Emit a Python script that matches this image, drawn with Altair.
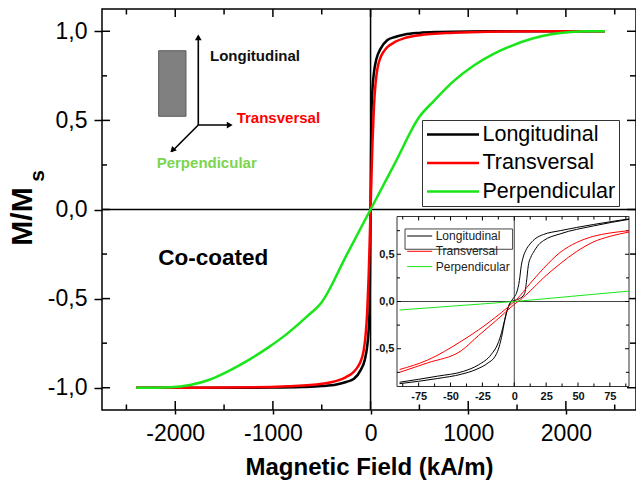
import altair as alt
import pandas as pd

FONT = "Liberation Sans"

# ---------------- data ----------------
series_names = ["Longitudinal", "Transversal", "Perpendicular"]
series_colors = ["#000000", "#ff0000", "#19e619"]

# main loops (kA/m, M/Ms)
long_H = [-2400, -1500, -1000, -700, -500, -350, -250, -170, -100, -60, -35, -20, -10, -5, 0,
          5, 10, 20, 35, 60, 100, 170, 250, 350, 500, 700, 1000, 1500, 2400]
long_M = [-1.0, -1.0, -0.999, -0.996, -0.991, -0.982, -0.968, -0.95, -0.90, -0.845, -0.77, -0.68, -0.55, -0.3, 0.0,
          0.3, 0.55, 0.68, 0.77, 0.845, 0.90, 0.95, 0.968, 0.982, 0.991, 0.996, 0.999, 1.0, 1.0]

trans_H = [-2400, -1800, -1200, -850, -500, -340, -250, -180, -140, -100, -70, -50, -35, -20, -10, 0,
           10, 20, 35, 50, 70, 100, 140, 180, 250, 340, 500, 850, 1200, 1800, 2400]
trans_M = [-1.0, -1.0, -0.998, -0.992, -0.978, -0.96, -0.94, -0.915, -0.89, -0.85, -0.79, -0.70, -0.58, -0.38, -0.2, 0.0,
           0.2, 0.38, 0.58, 0.70, 0.79, 0.85, 0.89, 0.915, 0.94, 0.96, 0.978, 0.992, 0.998, 1.0, 1.0]

perp_H = [-2400, -2200, -2050, -1850, -1650, -1450, -1250, -1050, -850, -650, -500, -250, 0,
          250, 500, 650, 850, 1050, 1250, 1450, 1650, 1850, 2050, 2200, 2400]
perp_M = [-1.0, -1.0, -0.998, -0.985, -0.955, -0.905, -0.845, -0.775, -0.695, -0.60, -0.52, -0.26, 0.0,
          0.26, 0.52, 0.61, 0.72, 0.805, 0.87, 0.92, 0.958, 0.983, 0.996, 1.0, 1.0]

# inset loops (low field), two branches each
in_long_ul_H = [-90, -60, -40, -28, -18, -13, -10, -8, -6, -3.5, -1, 2, 4, 5.5, 7, 9, 12.4, 17, 23, 36, 62, 90]
in_long_ul_M = [-0.855, -0.79, -0.74, -0.67, -0.56, -0.45, -0.33, -0.22, -0.11, -0.02, 0.03, 0.1, 0.22, 0.38,
                0.47, 0.54, 0.61, 0.67, 0.71, 0.75, 0.815, 0.875]
in_long_lr_H = [-90, -60, -41.5, -30, -20.5, -15, -12.6, -10, -7.3, -5, -2, 4, 8, 9.5, 11, 13, 15, 19, 23, 36, 62, 90]
in_long_lr_M = [-0.87, -0.815, -0.77, -0.72, -0.65, -0.58, -0.51, -0.38, -0.19, -0.07, 0.0, 0.03, 0.08, 0.2,
                0.38, 0.47, 0.52, 0.6, 0.645, 0.716, 0.80, 0.87]

in_trans_ul_H = [-90, -68, -41.5, -28, -15, -5, 0, 2, 12.4, 22.9, 36, 49, 62, 75, 90]
in_trans_ul_M = [-0.72, -0.62, -0.42, -0.30, -0.17, -0.06, 0.0, 0.025, 0.19, 0.35, 0.52, 0.625, 0.69, 0.725, 0.75]
in_trans_lr_H = [-90, -68, -41.5, -28, -15, -5, 0, 5, 12.4, 22.9, 36, 49, 62, 75, 90]
in_trans_lr_M = [-0.75, -0.65, -0.52, -0.36, -0.21, -0.09, -0.03, 0.02, 0.11, 0.25, 0.40, 0.53, 0.63, 0.69, 0.735]

in_perp_H = [-90, -45, 0, 45, 90]
in_perp_M = [-0.09, -0.045, 0.0, 0.055, 0.11]

# axis ticks
x_major = [-2000, -1000, 0, 1000, 2000]
x_minor = [-2500, -1500, -500, 500, 1500, 2500]
y_major = [-1.0, -0.5, 0.0, 0.5, 1.0]
y_minor = [-0.75, -0.25, 0.25, 0.75]
in_x_major = [-75, -50, -25, 0, 25, 50, 75]
in_x_minor = [-87.5, -62.5, -37.5, -12.5, 12.5, 37.5, 62.5, 87.5]
in_y_major = [-0.5, 0.0, 0.5]
in_y_minor = [-0.75, -0.25, 0.25, 0.75]

# ---------------- layout ----------------
W, HGT = 534, 401
X_DOM = [-2750, 2718]
Y_DOM = [-1.125, 1.125]
IN_X_DOM = [-92, 90]
IN_Y_DOM = [-0.9, 0.9]
IN_X_RANGE = [295, 527]
IN_Y_RANGE = [377.5, 207.5]

xs = alt.Scale(domain=X_DOM, range=[0, W], nice=False, zero=False)
ys = alt.Scale(domain=Y_DOM, range=[HGT, 0], nice=False, zero=False)
ixs = alt.Scale(domain=IN_X_DOM, range=IN_X_RANGE, nice=False, zero=False)
iys = alt.Scale(domain=IN_Y_DOM, range=IN_Y_RANGE, nice=False, zero=False)

LBL_X = "replace(format(datum.value, 'd'), '\u2212', '-')"
LBL_Y = "replace(replace(format(datum.value, '.1f'), '.', ','), '\u2212', '-')"


def frame(name, branch, hs, ms):
    return pd.DataFrame({"H": hs, "M": ms, "series": name, "branch": branch})


main_df = pd.concat([
    frame("Longitudinal", "a", long_H, long_M),
    frame("Transversal", "a", trans_H, trans_M),
    frame("Perpendicular", "a", perp_H, perp_M),
])
inset_df = pd.concat([
    frame("Longitudinal", "ul", in_long_ul_H, in_long_ul_M),
    frame("Longitudinal", "lr", in_long_lr_H, in_long_lr_M),
    frame("Transversal", "ul", in_trans_ul_H, in_trans_ul_M),
    frame("Transversal", "lr", in_trans_lr_H, in_trans_lr_M),
    frame("Perpendicular", "a", in_perp_H, in_perp_M),
])

# ---------------- main plot ----------------
main_lines = alt.Chart(main_df).mark_line(strokeWidth=2.5, interpolate="monotone").encode(
    x=alt.X("H:Q", scale=xs, axis=alt.Axis(
        orient="bottom", values=x_major, labelExpr=LBL_X, labelFont=FONT, labelFontSize=23,
        labelColor="black", tickSize=4, tickWidth=1.5, tickColor="black", labelPadding=8,
        domain=False, grid=False, title="Magnetic Field (kA/m)", titleFont=FONT,
        titleFontSize=24, titleFontWeight="bold", titleColor="black", titleY=64,
        titleBaseline="alphabetic")),
    y=alt.Y("M:Q", scale=ys, axis=alt.Axis(
        orient="left", values=y_major, labelExpr=LBL_Y, labelFont=FONT, labelFontSize=23,
        labelColor="black", tickSize=8, tickWidth=1.5, tickColor="black", labelPadding=7,
        domain=False, grid=False, title="M/M", titleFont=FONT, titleFontSize=30,
        titleFontWeight="bold", titleColor="black", titleAngle=270, titleX=-80, titleY=207,
        titleAlign="center", titleBaseline="middle")),
    color=alt.Color("series:N", scale=alt.Scale(domain=series_names, range=series_colors),
                    legend=alt.Legend(title=None, orient="none", legendX=320, legendY=111,
                                      symbolType="stroke", symbolSize=2704, symbolStrokeWidth=2.5,
                                      clipHeight=22, labelFontSize=21.5, labelFont=FONT,
                                      labelColor="black", rowPadding=6.5, padding=3.5,
                                      labelOffset=2, strokeColor="#333333", fillColor="white")),
)

zero_x = alt.Chart(pd.DataFrame({"v": [0]})).mark_rule(color="black", strokeWidth=1.5).encode(
    x=alt.X("v:Q", scale=xs, axis=None))
zero_y = alt.Chart(pd.DataFrame({"v": [0]})).mark_rule(color="black", strokeWidth=1.5).encode(
    y=alt.Y("v:Q", scale=ys, axis=None))


def xticks(vals, y0, y1, scale, width=1.5):
    return alt.Chart(pd.DataFrame({"v": vals})).mark_rule(color="black", strokeWidth=width).encode(
        x=alt.X("v:Q", scale=scale, axis=None), y=alt.value(y0), y2=alt.value(y1))


def yticks(vals, x0, x1, scale, width=1.5):
    return alt.Chart(pd.DataFrame({"v": vals})).mark_rule(color="black", strokeWidth=width).encode(
        y=alt.Y("v:Q", scale=scale, axis=None), x=alt.value(x0), x2=alt.value(x1))


main_ticks = [
    xticks(x_major, HGT, HGT - 9, xs), xticks(x_minor, HGT, HGT - 5.5, xs),
    xticks(x_major, 0, 8, xs), xticks(x_minor, 0, 5.5, xs),
    yticks(y_major, 0, 8, ys), yticks(y_minor, 0, 5, ys),
    yticks(y_major, W, W - 9, ys), yticks(y_minor, W, W - 6, ys),
]

# schematic (field directions) in data units
rect_df = pd.DataFrame({"h1": [-2170], "h2": [-1890], "m1": [0.523], "m2": [0.891]})
schem_rect = alt.Chart(rect_df).mark_rect(fill="#808080", stroke="#5a5a5a", strokeWidth=1).encode(
    x=alt.X("h1:Q", scale=xs, axis=None), x2="h2:Q",
    y=alt.Y("m1:Q", scale=ys, axis=None), y2="m2:Q")

arrow_df = pd.DataFrame({"h0": [-1764, -1764, -1764], "m0": [0.474, 0.474, 0.474],
                         "h1": [-1764, -1429, -2037], "m1": [0.974, 0.474, 0.324]})
arrows = alt.Chart(arrow_df).mark_rule(color="black", strokeWidth=1.6).encode(
    x=alt.X("h0:Q", scale=xs, axis=None), y=alt.Y("m0:Q", scale=ys, axis=None),
    x2="h1:Q", y2="m1:Q")
head_df = pd.DataFrame({"h": [-1764, -1452, -2022], "m": [0.96, 0.474, 0.336], "a": [0, 90, 225]})
heads = alt.Chart(head_df).mark_point(shape="triangle", filled=True, size=45, color="black",
                                      opacity=1).encode(
    x=alt.X("h:Q", scale=xs, axis=None), y=alt.Y("m:Q", scale=ys, axis=None),
    angle=alt.Angle("a:Q", scale=None))


def label(txt, h, m, color, size):
    return alt.Chart(pd.DataFrame({"t": [txt], "h": [h], "m": [m]})).mark_text(
        align="left", baseline="middle", font=FONT, fontSize=size, fontWeight="bold",
        color=color).encode(x=alt.X("h:Q", scale=xs, axis=None),
                            y=alt.Y("m:Q", scale=ys, axis=None), text="t:N")


schem_text = [
    label("Longitudinal", -1644, 0.861, "#111111", 15),
    label("Transversal", -1371, 0.513, "#ff0000", 15),
    label("Perpendicular", -2190, 0.262, "#7cd44f", 15),
    label("Co-coated", -2174, -0.27, "#000000", 22.5),
]

sub_s = alt.Chart(pd.DataFrame({"t": ["s"]})).mark_text(
    font=FONT, fontSize=21, fontWeight="bold", angle=270, align="center", baseline="middle",
    color="black").encode(text="t:N", x=alt.value(-64), y=alt.value(167))

# ---------------- inset ----------------
in_bg = alt.Chart(pd.DataFrame({"h1": [IN_X_DOM[0]], "h2": [IN_X_DOM[1]],
                                "m1": [IN_Y_DOM[0]], "m2": [IN_Y_DOM[1]]})).mark_rect(
    fill="white", stroke="#333333", strokeWidth=1).encode(
    x=alt.X("h1:Q", scale=ixs, axis=alt.Axis(
        orient="bottom", offset=IN_Y_RANGE[0] - HGT, values=in_x_major, labelExpr=LBL_X,
        labelFont=FONT, labelFontSize=11, labelFontWeight="bold", labelColor="#111111",
        ticks=False, domain=False, grid=False, labelPadding=4, title=None)),
    x2="h2:Q",
    y=alt.Y("m1:Q", scale=iys, axis=alt.Axis(
        orient="left", offset=-IN_X_RANGE[0], values=in_y_major, labelExpr=LBL_Y,
        labelFont=FONT, labelFontSize=11, labelFontWeight="bold", labelColor="#111111",
        ticks=False, domain=False, grid=False, labelPadding=3, title=None)),
    y2="m2:Q")

in_zero_v = alt.Chart(pd.DataFrame({"h": [0], "m1": [IN_Y_DOM[0]], "m2": [IN_Y_DOM[1]]})).mark_rule(
    color="#444444", strokeWidth=1).encode(
    x=alt.X("h:Q", scale=ixs, axis=None), y=alt.Y("m1:Q", scale=iys, axis=None), y2="m2:Q")
in_zero_h = alt.Chart(pd.DataFrame({"m": [0], "h1": [IN_X_DOM[0]], "h2": [IN_X_DOM[1]]})).mark_rule(
    color="#444444", strokeWidth=1).encode(
    y=alt.Y("m:Q", scale=iys, axis=None), x=alt.X("h1:Q", scale=ixs, axis=None), x2="h2:Q")

in_ticks = [
    xticks(in_x_major, IN_Y_RANGE[0], IN_Y_RANGE[0] - 4, ixs, 1),
    xticks(in_x_minor, IN_Y_RANGE[0], IN_Y_RANGE[0] - 3, ixs, 1),
    xticks(in_x_major, IN_Y_RANGE[1], IN_Y_RANGE[1] + 4, ixs, 1),
    xticks(in_x_minor, IN_Y_RANGE[1], IN_Y_RANGE[1] + 3, ixs, 1),
    yticks(in_y_major, IN_X_RANGE[0], IN_X_RANGE[0] + 4, iys, 1),
    yticks(in_y_minor, IN_X_RANGE[0], IN_X_RANGE[0] + 3, iys, 1),
    yticks(in_y_major, IN_X_RANGE[1], IN_X_RANGE[1] - 4, iys, 1),
    yticks(in_y_minor, IN_X_RANGE[1], IN_X_RANGE[1] - 3, iys, 1),
]

in_lines = alt.Chart(inset_df).mark_line(strokeWidth=1, interpolate="monotone").encode(
    x=alt.X("H:Q", scale=ixs, axis=None),
    y=alt.Y("M:Q", scale=iys, axis=None),
    detail="branch:N",
    color=alt.Color("series:N", scale=alt.Scale(domain=series_names, range=series_colors),
                    legend=alt.Legend(title=None, orient="none", legendX=304.7, legendY=221,
                                      symbolType="stroke", symbolSize=625, symbolStrokeWidth=1,
                                      clipHeight=12, labelFontSize=12, labelFont=FONT,
                                      labelColor="#222222", rowPadding=3.3, padding=0,
                                      labelOffset=3)),
)

in_leg_box = alt.Chart(pd.DataFrame({"h1": [-85.7], "h2": [-1.3], "m1": [0.553], "m2": [0.768]})).mark_rect(
    fillOpacity=0, stroke="#444444", strokeWidth=1).encode(
    x=alt.X("h1:Q", scale=ixs, axis=None), x2="h2:Q",
    y=alt.Y("m1:Q", scale=iys, axis=None), y2="m2:Q")

chart = alt.layer(
    zero_x, zero_y, *main_ticks, schem_rect, arrows, heads, *schem_text, sub_s, main_lines,
    in_bg, in_zero_v, in_zero_h, *in_ticks, in_lines, in_leg_box,
).resolve_scale(
    x="independent", y="independent", color="independent"
).properties(
    width=W, height=HGT,
    autosize=alt.AutoSizeParams(type="none"),
    padding={"left": 102, "top": 9, "right": 0, "bottom": 74},
    background="white",
).configure_view(stroke="black", strokeWidth=1.5)

chart.save("out.html", embed_options={"renderer": "svg", "actions": False})
